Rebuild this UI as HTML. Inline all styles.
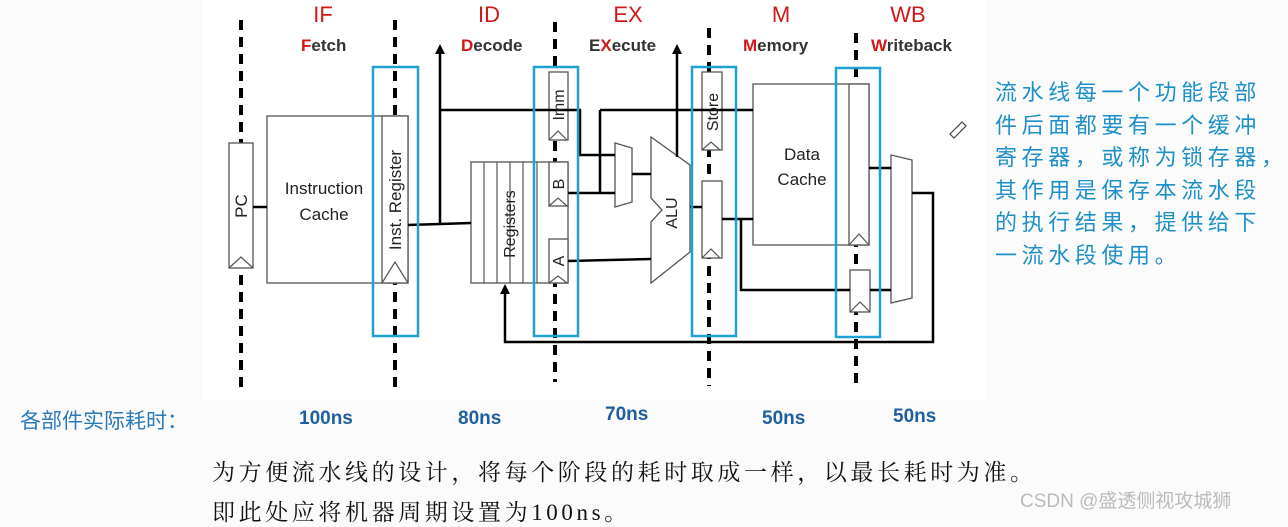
<!DOCTYPE html>
<html><head><meta charset="utf-8"><style>
html,body{margin:0;padding:0;background:#fbfbfb;}
body{width:1288px;height:522px;overflow:hidden;position:relative;font-family:"Liberation Sans","Noto Sans CJK SC",sans-serif;}
.t{position:absolute;white-space:nowrap;}
</style></head><body>
<div style="position:absolute;left:203px;top:0;width:782px;height:400px;background:#fff"></div>
<svg width="1288" height="522" style="position:absolute;left:0;top:0">
<g stroke="#000" stroke-width="4" stroke-dasharray="10,7">
<line x1="241" y1="20" x2="241" y2="392"/>
<line x1="395" y1="20" x2="395" y2="392"/>
<line x1="555" y1="22" x2="555" y2="382"/>
<line x1="709" y1="28" x2="709" y2="386"/>
<line x1="856" y1="33" x2="856" y2="386"/>
</g>
<g fill="#fff" stroke="#555" stroke-width="1.3">
<rect x="229" y="143" width="24" height="125"/>
<rect x="267" y="116" width="141" height="167"/>
<rect x="382" y="116" width="26" height="167"/>
<rect x="471" y="162" width="97" height="121"/>
<rect x="549" y="72" width="19" height="68"/>
<rect x="549" y="162" width="19" height="44"/>
<rect x="549" y="239" width="19" height="44"/>
<rect x="702" y="72" width="20" height="78"/>
<rect x="702" y="181" width="20" height="77"/>
<rect x="753" y="84" width="116" height="161"/>
<rect x="849" y="84" width="20" height="161"/>
<rect x="850" y="270" width="20" height="42"/>
<polygon points="615,143 632,148 632,202 615,207"/>
<polygon points="891,155 912,160 912,298 891,303"/>
<polygon points="651,137 690,165 690,252 651,283 651,222 662,210 651,198"/>
</g>
<g stroke="#555" stroke-width="1.2" fill="none">
<line x1="484" y1="162" x2="484" y2="283"/><line x1="497" y1="162" x2="497" y2="283"/>
<line x1="510" y1="162" x2="510" y2="283"/><line x1="523" y1="162" x2="523" y2="283"/>
<line x1="537" y1="162" x2="537" y2="283"/>
<polyline points="229,268 241,257 253,268"/>
<polyline points="382,283 395,262 408,283"/>
<polyline points="549,140 558,131 567,140"/>
<polyline points="549,206 558,198 567,206"/>
<polyline points="549,283 558,276 567,283"/>
<polyline points="702,150 711,142 720,150"/>
<polyline points="702,258 711,249 720,258"/>
<polyline points="849,245 859,234 869,245"/>
<polyline points="850,312 860,302 870,312"/>
</g>
<g stroke="#000" stroke-width="2.5" fill="none">
<line x1="253" y1="207" x2="267" y2="207"/>
<polyline points="408,225 440,224 471,223"/>
<line x1="440" y1="224" x2="440" y2="52"/>
<polyline points="440,110 580,110 580,155 615,155"/>
<line x1="600" y1="110" x2="753" y2="110"/>
<line x1="600" y1="110" x2="600" y2="193"/>
<line x1="568" y1="193" x2="615" y2="193"/>
<line x1="632" y1="174" x2="651" y2="174"/>
<line x1="568" y1="261" x2="651" y2="259"/>
<line x1="677" y1="157" x2="677" y2="52"/>
<line x1="690" y1="207" x2="702" y2="207"/>
<line x1="722" y1="219" x2="753" y2="219"/>
<polyline points="741,219 741,290 850,290"/>
<line x1="869" y1="168" x2="891" y2="168"/>
<line x1="870" y1="290" x2="891" y2="290"/>
<polyline points="912,193 933,193 933,342 505,342 505,290"/>
</g>
<g fill="#000">
<polygon points="440,44 435,54 445,54"/>
<polygon points="677,44 672,54 682,54"/>
<polygon points="505,284 500,294 510,294"/>
</g>
<g stroke="#1ea0d2" stroke-width="2.5" fill="none">
<rect x="373" y="67" width="45" height="269"/>
<rect x="534" y="67" width="44" height="269"/>
<rect x="692" y="67" width="44" height="269"/>
<rect x="836" y="68" width="44" height="269"/>
</g>
<g font-family="Liberation Sans,sans-serif" font-size="17" fill="#222" text-anchor="middle">
<text x="324" y="194">Instruction</text><text x="324" y="220">Cache</text>
<text x="802" y="160">Data</text><text x="802" y="185">Cache</text>
<text transform="translate(247,206) rotate(-90)">PC</text>
<text transform="translate(401,200) rotate(-90)">Inst. Register</text>
<text transform="translate(515,224) rotate(-90)" font-size="16">Registers</text>
<text transform="translate(564,105) rotate(-90)" font-size="16">Imm</text>
<text transform="translate(564,184) rotate(-90)" font-size="16">B</text>
<text transform="translate(564,261) rotate(-90)" font-size="16">A</text>
<text transform="translate(718,112) rotate(-90)" font-size="16">Store</text>
<text transform="translate(677,213) rotate(-90)" font-size="16">ALU</text>
</g>
<g font-family="Liberation Sans,sans-serif" fill="#d01818" font-size="22" text-anchor="middle">
<text x="323" y="22">IF</text><text x="489" y="22">ID</text><text x="628" y="22">EX</text>
<text x="781" y="22">M</text><text x="908" y="22">WB</text>
</g>
<g font-family="Liberation Sans,sans-serif" font-size="17" font-weight="bold" fill="#333">
<text x="301" y="51"><tspan fill="#d01818">F</tspan>etch</text>
<text x="461" y="51"><tspan fill="#d01818">D</tspan>ecode</text>
<text x="589" y="51">E<tspan fill="#d01818">X</tspan>ecute</text>
<text x="743" y="51"><tspan fill="#d01818">M</tspan>emory</text>
<text x="871" y="51"><tspan fill="#d01818">W</tspan>riteback</text>
</g>
<path d="M950,134 L962,122 L966,126 L954,138 Z" fill="none" stroke="#444" stroke-width="1.2"/>
</svg>
<div class="t" style="left:995px;top:77px;font-size:22px;letter-spacing:4.6px;line-height:32.5px;color:#1e90c8;">流水线每一个功能段部<br>件后面都要有一个缓冲<br>寄存器，或称为锁存器，<br>其作用是保存本流水段<br>的执行结果，提供给下<br>一流水段使用。</div>
<div class="t" style="left:20px;top:405px;font-size:21px;color:#2a7ab8">各部件实际耗时：</div>
<div class="t" style="left:299px;top:408px;font-size:19px;color:#1f5f9f;font-weight:bold">100ns</div>
<div class="t" style="left:458px;top:408px;font-size:19px;color:#1f5f9f;font-weight:bold">80ns</div>
<div class="t" style="left:605px;top:404px;font-size:19px;color:#1f5f9f;font-weight:bold">70ns</div>
<div class="t" style="left:762px;top:408px;font-size:19px;color:#1f5f9f;font-weight:bold">50ns</div>
<div class="t" style="left:893px;top:406px;font-size:19px;color:#1f5f9f;font-weight:bold">50ns</div>
<div class="t" style="left:212px;top:454px;font-size:23px;letter-spacing:3.6px;color:#111;font-family:'Liberation Serif','Noto Serif CJK SC',serif">为方便流水线的设计，将每个阶段的耗时取成一样，以最长耗时为准。</div>
<div class="t" style="left:212px;top:494px;font-size:23px;letter-spacing:3.6px;color:#111;font-family:'Liberation Serif','Noto Serif CJK SC',serif">即此处应将机器周期设置为100ns。</div>
<div class="t" style="left:1020px;top:486px;font-size:19px;color:#bbb">CSDN @盛透侧视攻城狮</div>
</body></html>
